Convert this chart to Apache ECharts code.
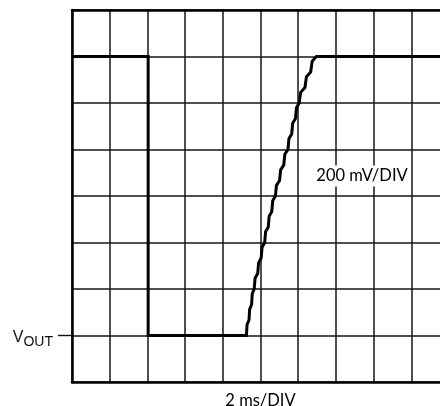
<!DOCTYPE html>
<html>
<head>
<meta charset="utf-8">
<script src="https://cdn.jsdelivr.net/npm/echarts@6/dist/echarts.min.js"></script>
<style>
  html, body { margin: 0; padding: 0; background: #fff; }
  #chart { width: 440px; height: 406px; }
</style>
</head>
<body>
<div id="chart"></div>
<script>
// Scope screen: 10 horizontal divisions (2 ms/DIV), 8 vertical divisions (200 mV/DIV)
const xDivisions = [0, 10];
const yDivisions = [0, 8];

// Output trace, in divisions: high level, step down, hold low, then a rippled ramp back up
const traceX = [
  0, 2.02, 2.02, 4.626,
  4.643, 4.695, 4.712, 4.764, 4.781, 4.833,
  4.856, 4.926, 4.949, 5.018, 5.041, 5.111,
  5.135, 5.206, 5.229, 5.300, 5.324, 5.395,
  5.423, 5.506, 5.534, 5.617, 5.645, 5.729,
  5.754, 5.828, 5.853, 5.928, 5.953, 6.027,
  6.065, 6.179, 6.217, 6.331, 6.369, 6.483,
  10
];
const traceY = [
  7, 7, 1, 1,
  1.23, 1.333, 1.563, 1.667, 1.897, 2.0,
  2.23, 2.333, 2.563, 2.667, 2.897, 3.0,
  3.23, 3.333, 3.563, 3.667, 3.897, 4.0,
  4.23, 4.333, 4.563, 4.667, 4.897, 5.0,
  5.23, 5.333, 5.563, 5.667, 5.897, 6.0,
  6.23, 6.333, 6.563, 6.667, 6.897, 7.0,
  7
];

// Reference level marked on the left edge
const vOutLevel = [1];

const xScaleLabel = '2 ms/DIV';
const yScaleLabel = '200 mV/DIV';

const trace = traceX.map((x, i) => [x, traceY[i]]);

const gridColor = '#141414';
const gridWidth = 1.5;
const textFont = 'Lato, "Open Sans", sans-serif';
const markerFont = '"Liberation Sans", Arial, sans-serif';

const chart = echarts.init(document.getElementById('chart'), null, { renderer: 'canvas' });

chart.setOption({
  animation: false,
  backgroundColor: '#fff',
  grid: { left: 72, top: 10, width: 377, height: 372, containLabel: false, outerBoundsMode: 'none' },
  xAxis: [
    {
      type: 'value',
      position: 'bottom',
      min: xDivisions[0], max: xDivisions[1], interval: 1,
      name: xScaleLabel,
      nameLocation: 'middle',
      nameGap: 10,
      nameTextStyle: { color: '#000', fontSize: 16.5, fontFamily: textFont, verticalAlign: 'top' },
      axisLine: { show: true, onZero: false, lineStyle: { color: '#000', width: 2.5 } },
      axisTick: { show: false },
      axisLabel: { show: false },
      splitLine: { show: true, lineStyle: { color: gridColor, width: gridWidth } }
    },
    {
      type: 'value',
      position: 'top',
      min: xDivisions[0], max: xDivisions[1], interval: 1,
      axisLine: { show: true, onZero: false, lineStyle: { color: '#000', width: 2.5 } },
      axisTick: { show: false },
      axisLabel: { show: false },
      splitLine: { show: false }
    }
  ],
  yAxis: [
    {
      // division grid and the left border
      type: 'value',
      position: 'left',
      min: yDivisions[0], max: yDivisions[1], interval: 1,
      axisLine: { show: true, onZero: false, lineStyle: { color: '#000', width: 2.5 } },
      axisTick: { show: false },
      axisLabel: { show: false },
      splitLine: { show: true, lineStyle: { color: gridColor, width: gridWidth } }
    },
    {
      // VOUT marker on the same scale
      type: 'value',
      position: 'left',
      offset: 0,
      min: yDivisions[0], max: yDivisions[1], interval: 1,
      axisLine: { show: false },
      axisTick: {
        show: true, length: 14, customValues: vOutLevel,
        lineStyle: { color: '#111', width: 1.4 }
      },
      axisLabel: {
        show: true, margin: 19, customValues: vOutLevel,
        formatter: () => '{v|V}{s|OUT}',
        rich: {
          v: { fontSize: 16, fontFamily: markerFont, color: '#111', lineHeight: 20, verticalAlign: 'bottom' },
          s: { fontSize: 14, fontFamily: markerFont, color: '#111', lineHeight: 20, verticalAlign: 'bottom', padding: [0, 0, -4, 0] }
        }
      },
      splitLine: { show: false }
    }
  ],
  series: [
    {
      type: 'line',
      data: trace,
      xAxisIndex: 0,
      yAxisIndex: 0,
      symbol: 'none',
      smooth: false,
      lineStyle: { color: '#000', width: 3, join: 'miter' },
      z: 5
    }
  ],
  graphic: [
    {
      type: 'text',
      x: 362, y: 176,
      z: 100,
      style: {
        text: yScaleLabel,
        font: '16.5px ' + textFont,
        fill: '#000',
        align: 'center',
        verticalAlign: 'middle',
        backgroundColor: '#fff',
        padding: [2, 2]
      }
    }
  ]
});
</script>
</body>
</html>
